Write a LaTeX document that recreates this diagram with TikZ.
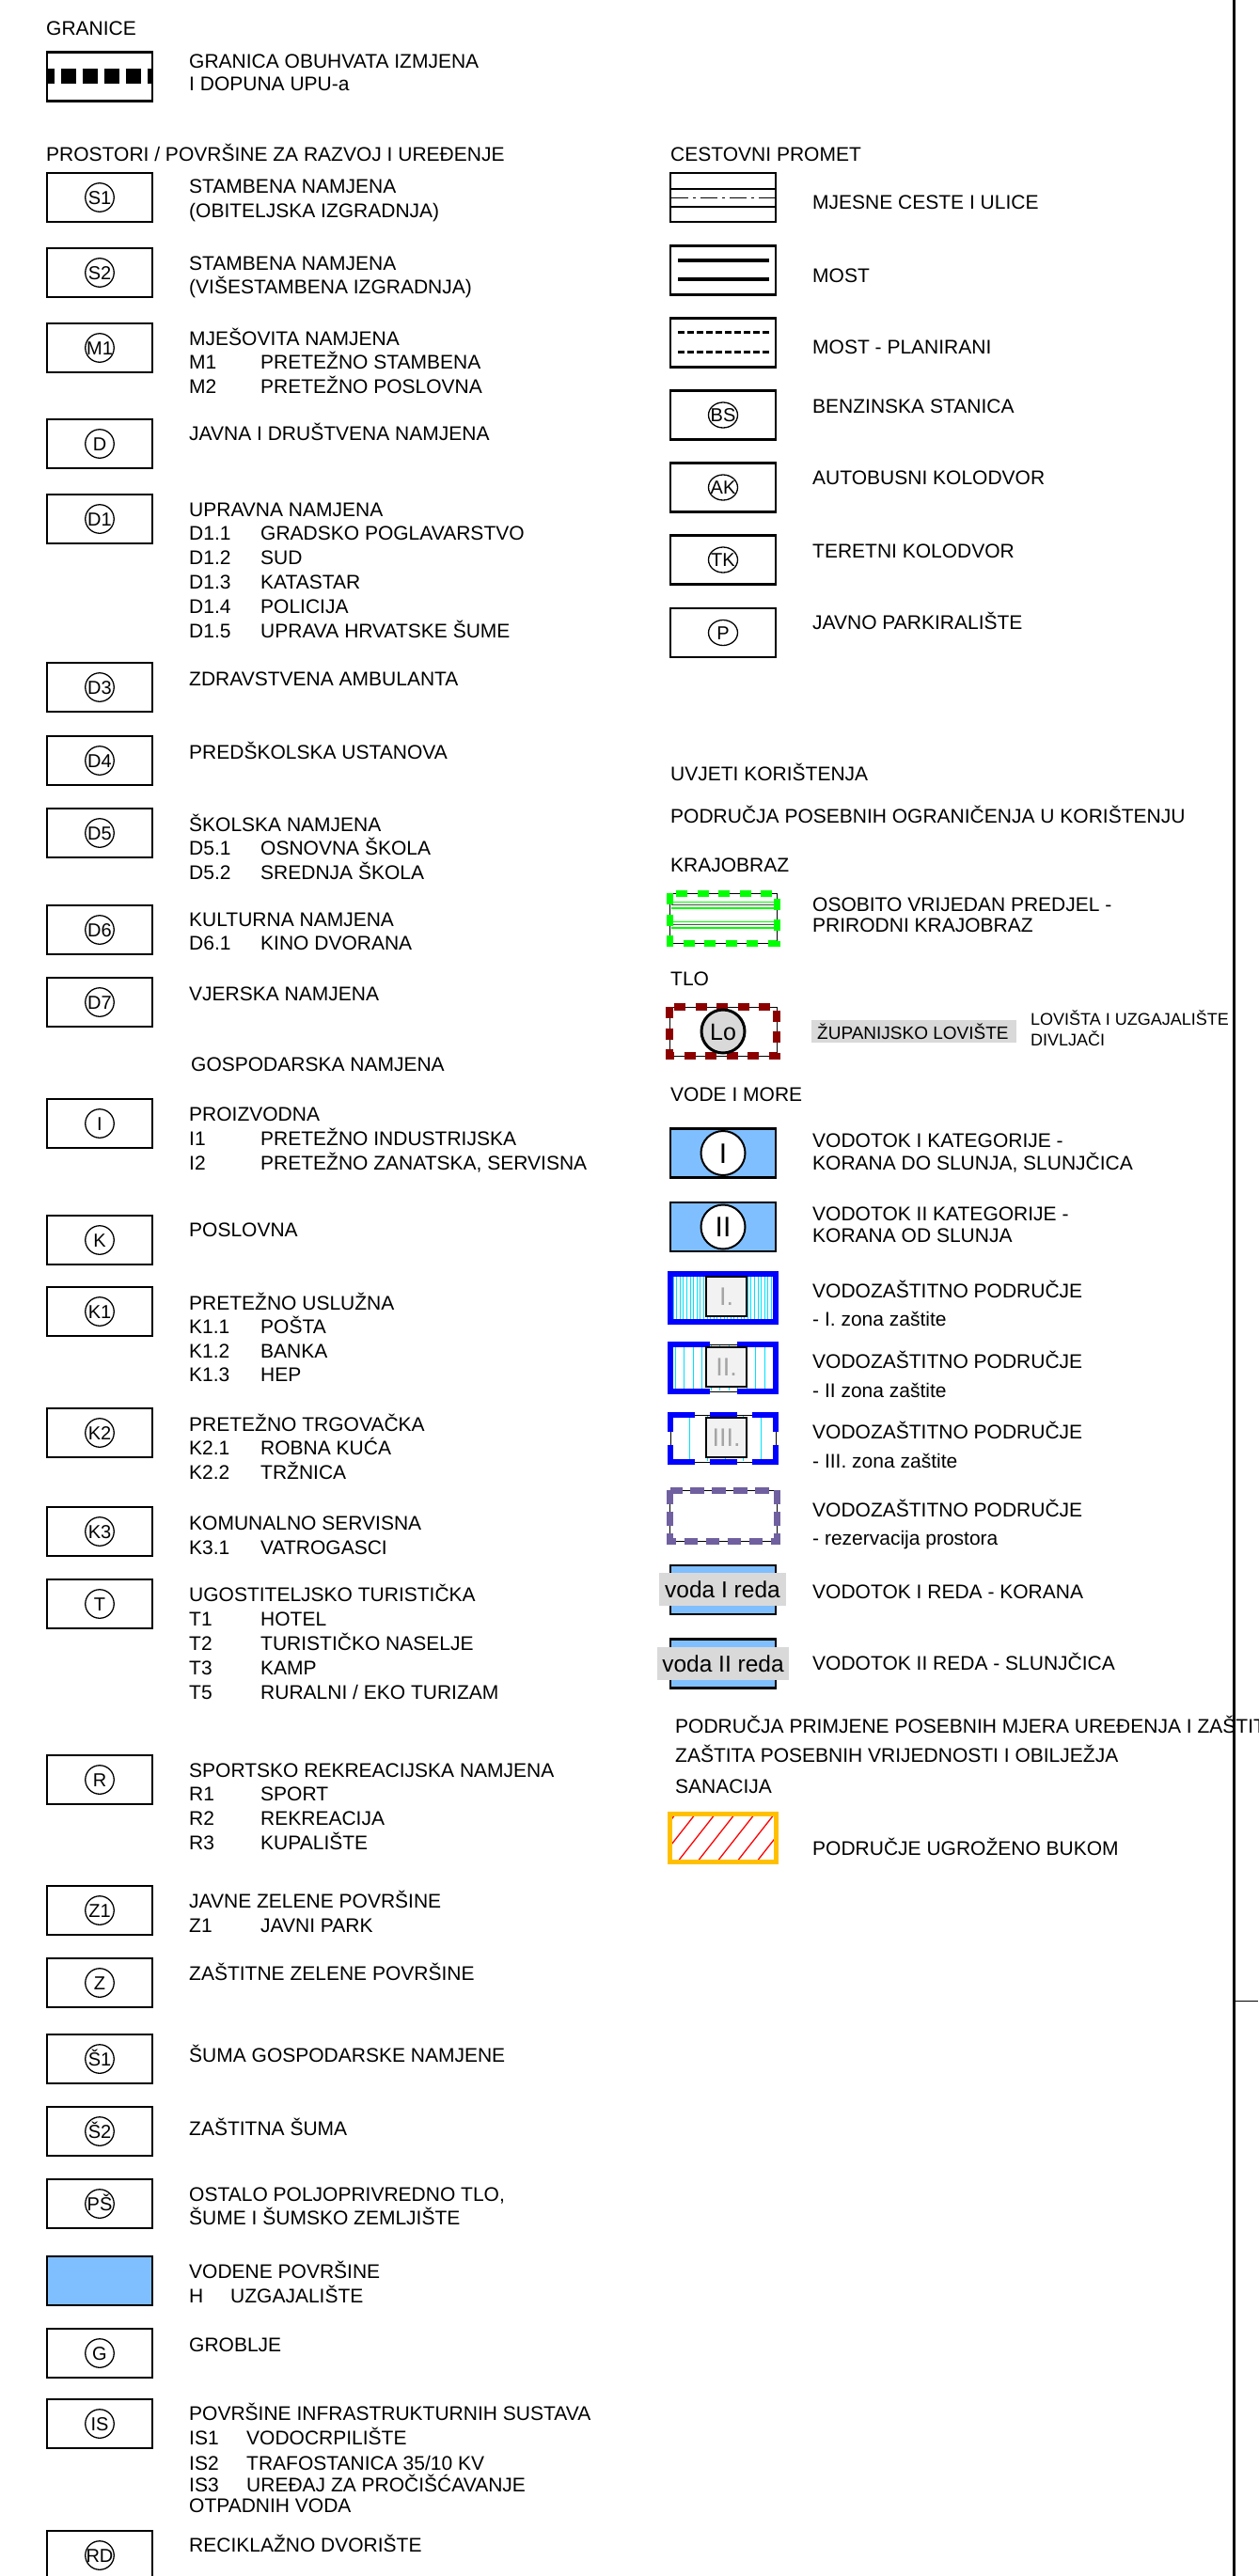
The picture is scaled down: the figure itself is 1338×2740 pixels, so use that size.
\documentclass[tikz,border=0pt]{standalone}
\usepackage{fontspec}
\setmainfont{Liberation Sans}
\usetikzlibrary{shapes.geometric}
\definecolor{lblue}{RGB}{128,191,255}
\definecolor{lgray}{RGB}{217,217,217}
\definecolor{vgreen}{RGB}{0,255,0}
\definecolor{dred}{RGB}{140,0,0}
\definecolor{vpurple}{RGB}{112,96,160}
\definecolor{vblue}{RGB}{0,0,255}
\definecolor{vcyan}{RGB}{0,225,255}
\definecolor{vorange}{RGB}{255,192,0}
\definecolor{igray}{RGB}{242,242,242}
\definecolor{tgray}{RGB}{165,165,165}
\newcommand\fs{\fontsize{21}{25.5}\selectfont}
\newcommand\ltabx[3]{{\fontsize{#1}{#2}\selectfont\begin{tabular}[t]{@{}l@{}}#3\end{tabular}}}
\newcommand\ltab[2][25.5]{\ltabx{21}{#1}{#2}}
\newcommand\subi[3][76pt]{\makebox[#1][l]{#2}#3}
\newcommand\cz[1]{\makebox[0pt]{#1}}
\begin{document}
\begin{tikzpicture}[x=1pt,y=-1pt,
  sym/.style={draw, line width=2.3pt, minimum width=112pt, minimum height=52pt, inner sep=0pt, outer sep=0pt},
  circ/.style={draw, circle, line width=1.3pt, fill=white, minimum size=30.5pt, inner sep=0pt, text height=14.3pt, text depth=0pt, font=\fontsize{20}{24}\selectfont},
  ell/.style={draw, ellipse, line width=1.3pt, fill=white, minimum width=31pt, minimum height=27pt, inner sep=0pt, text height=14.3pt, text depth=0pt, font=\fontsize{20}{24}\selectfont},
  bigc/.style={draw, circle, line width=2pt, fill=white, minimum size=47pt, inner sep=0pt, text height=21.5pt, text depth=0pt, font=\fontsize{30}{34}\selectfont},
  ibox/.style={draw, line width=2pt, fill=igray, minimum width=43pt, minimum height=42pt, inner sep=0pt, text height=19.5pt, text depth=0pt, text=tgray, font=\fontsize{27}{30}\selectfont},
  txt/.style={anchor=base west, inner sep=0pt, font=\fs},
  vlabel/.style={fill=lgray, minimum height=35pt, inner sep=0pt, text height=17.5pt, text depth=0pt, font=\fontsize{24.5}{28}\selectfont}
]
\useasboundingbox (0,0) rectangle (1338,2740);
\fill[white] (0,0) rectangle (1338,2740);

% ---------------- frame line on the right
\draw[line width=3pt] (1312,0) -- (1312,2740);
\draw[line width=1pt] (1312,2128) -- (1338,2128);

% ---------------- GRANICE
\node[txt] (hGran) at (49,38) {GRANICE};
\node[sym] (bGran) at (106,81.5) {};
\draw[line width=16pt, dash pattern=on 16.5pt off 6.5pt, dash phase=7.5pt] (49,81.5) -- (163,81.5);
\node[txt] (tGran) at (201,73) {\ltab[24]{GRANICA OBUHVATA IZMJENA\\I DOPUNA UPU-a}};

\node[txt] (hPros) at (49,172) {PROSTORI / POVRŠINE ZA RAZVOJ I UREĐENJE};

% ---------------- left column entries
\node[sym] (bS1) at (106,210) {}; \node[circ] (cS1) at (bS1.center) {\cz{S1}};
\node[txt] (tS1) at (201,205) {\ltab[26]{STAMBENA NAMJENA\\(OBITELJSKA IZGRADNJA)}};

\node[sym] (bS2) at (106,290) {}; \node[circ] (cS2) at (bS2.center) {\cz{S2}};
\node[txt] (tS2) at (201,287) {\ltab[25]{STAMBENA NAMJENA\\(VIŠESTAMBENA IZGRADNJA)}};

\node[sym] (bM1) at (106,370) {}; \node[circ] (cM1) at (bM1.center) {\cz{M1}};
\node[txt] (tM1) at (201,367) {\ltab[25]{MJEŠOVITA NAMJENA\\\subi{M1}{PRETEŽNO STAMBENA}\\\subi{M2}{PRETEŽNO POSLOVNA}}};

\node[sym] (bD) at (106,472) {}; \node[circ] (cD) at (bD.center) {\cz{D}};
\node[txt] (tD) at (201,468) {JAVNA I DRUŠTVENA NAMJENA};

\node[sym] (bD1) at (106,552) {}; \node[circ] (cD1) at (bD1.center) {\cz{D1}};
\node[txt] (tD1) at (201,549) {\ltab[25.8]{UPRAVNA NAMJENA\\\subi{D1.1}{GRADSKO POGLAVARSTVO}\\\subi{D1.2}{SUD}\\\subi{D1.3}{KATASTAR}\\\subi{D1.4}{POLICIJA}\\\subi{D1.5}{UPRAVA HRVATSKE ŠUME}}};

\node[sym] (bD3) at (106,731) {}; \node[circ] (cD3) at (bD3.center) {\cz{D3}};
\node[txt] (tD3) at (201,729) {ZDRAVSTVENA AMBULANTA};

\node[sym] (bD4) at (106,809) {}; \node[circ] (cD4) at (bD4.center) {\cz{D4}};
\node[txt] (tD4) at (201,807) {PREDŠKOLSKA USTANOVA};

\node[sym] (bD5) at (106,886) {}; \node[circ] (cD5) at (bD5.center) {\cz{D5}};
\node[txt] (tD5) at (201,884) {\ltab[25]{ŠKOLSKA NAMJENA\\\subi{D5.1}{OSNOVNA ŠKOLA}\\\subi{D5.2}{SREDNJA ŠKOLA}}};

\node[sym] (bD6) at (106,989) {}; \node[circ] (cD6) at (bD6.center) {\cz{D6}};
\node[txt] (tD6) at (201,985) {\ltab[25.5]{KULTURNA NAMJENA\\\subi{D6.1}{KINO DVORANA}}};

\node[sym] (bD7) at (106,1066) {}; \node[circ] (cD7) at (bD7.center) {\cz{D7}};
\node[txt] (tD7) at (201,1064) {VJERSKA NAMJENA};

\node[txt] (hGosp) at (203,1139) {GOSPODARSKA NAMJENA};

\node[sym] (bI) at (106,1195) {}; \node[circ] (cI) at (bI.center) {\cz{I}};
\node[txt] (tI) at (201,1192) {\ltab[25.5]{PROIZVODNA\\\subi{I1}{PRETEŽNO INDUSTRIJSKA}\\\subi{I2}{PRETEŽNO ZANATSKA, SERVISNA}}};

\node[sym] (bK) at (106,1319) {}; \node[circ] (cK) at (bK.center) {\cz{K}};
\node[txt] (tK) at (201,1315) {POSLOVNA};

\node[sym] (bK1) at (106,1395) {}; \node[circ] (cK1) at (bK1.center) {\cz{K1}};
\node[txt] (tK1) at (201,1393) {\ltab[25.2]{PRETEŽNO USLUŽNA\\\subi{K1.1}{POŠTA}\\\subi{K1.2}{BANKA}\\\subi{K1.3}{HEP}}};

\node[sym] (bK2) at (106,1524) {}; \node[circ] (cK2) at (bK2.center) {\cz{K2}};
\node[txt] (tK2) at (201,1522) {\ltab[25.5]{PRETEŽNO TRGOVAČKA\\\subi{K2.1}{ROBNA KUĆA}\\\subi{K2.2}{TRŽNICA}}};

\node[sym] (bK3) at (106,1629) {}; \node[circ] (cK3) at (bK3.center) {\cz{K3}};
\node[txt] (tK3) at (201,1627) {\ltab[26]{KOMUNALNO SERVISNA\\\subi{K3.1}{VATROGASCI}}};

\node[sym] (bT) at (106,1706) {}; \node[circ] (cT) at (bT.center) {\cz{T}};
\node[txt] (tT) at (201,1703) {\ltab[26.2]{UGOSTITELJSKO TURISTIČKA\\\subi{T1}{HOTEL}\\\subi{T2}{TURISTIČKO NASELJE}\\\subi{T3}{KAMP}\\\subi{T5}{RURALNI / EKO TURIZAM}}};

\node[sym] (bR) at (106,1893) {}; \node[circ] (cR) at (bR.center) {\cz{R}};
\node[txt] (tR) at (201,1890) {\ltab[25.7]{SPORTSKO REKREACIJSKA NAMJENA\\\subi{R1}{SPORT}\\\subi{R2}{REKREACIJA}\\\subi{R3}{KUPALIŠTE}}};

\node[sym] (bZ1) at (106,2032) {}; \node[circ] (cZ1) at (bZ1.center) {\cz{Z1}};
\node[txt] (tZ1) at (201,2029) {\ltab[26]{JAVNE ZELENE POVRŠINE\\\subi{Z1}{JAVNI PARK}}};

\node[sym] (bZ) at (106,2109) {}; \node[circ] (cZ) at (bZ.center) {\cz{Z}};
\node[txt] (tZ) at (201,2106) {ZAŠTITNE ZELENE POVRŠINE};

\node[sym] (bSA) at (106,2190) {}; \node[circ] (cSA) at (bSA.center) {\cz{Š1}};
\node[txt] (tSA) at (201,2193) {ŠUMA GOSPODARSKE NAMJENE};

\node[sym] (bSB) at (106,2267) {}; \node[circ] (cSB) at (bSB.center) {\cz{Š2}};
\node[txt] (tSB) at (201,2271) {ZAŠTITNA ŠUMA};

\node[sym] (bPS) at (106,2344) {}; \node[circ] (cPS) at (bPS.center) {\cz{PŠ}};
\node[txt] (tPS) at (201,2341) {\ltab[24]{OSTALO POLJOPRIVREDNO TLO,\\ŠUME I ŠUMSKO ZEMLJIŠTE}};

\node[sym, fill=lblue] (bH) at (106,2426) {};
\node[txt] (tH) at (201,2423) {\ltab[26]{VODENE POVRŠINE\\\subi[44pt]{H}{UZGAJALIŠTE}}};

\node[sym] (bG) at (106,2503) {}; \node[circ] (cG) at (bG.center) {\cz{G}};
\node[txt] (tG) at (201,2501) {GROBLJE};

\node[sym] (bIS) at (106,2578) {}; \node[circ] (cIS) at (bIS.center) {\cz{IS}};
\node[txt] (tIS) at (201,2574) {\ltab[26.5]{POVRŠINE INFRASTRUKTURNIH SUSTAVA\\\subi[61pt]{IS1}{VODOCRPILIŠTE}\\\subi[61pt]{IS2}{TRAFOSTANICA 35/10 KV}}};
\node[txt] (tIS3) at (201,2650) {\ltab[22]{\subi[61pt]{IS3}{UREĐAJ ZA PROČIŠĆAVANJE}\\OTPADNIH VODA}};

\node[sym] (bRD) at (106,2718) {}; \node[circ] (cRD) at (bRD.center) {\cz{RD}};
\node[txt] (tRD) at (201,2714) {RECIKLAŽNO DVORIŠTE};

% ---------------- right column: CESTOVNI PROMET
\node[txt] (hCest) at (713,172) {CESTOVNI PROMET};

\node[sym] (bRoad) at (769,210) {};
\draw[line width=1.3pt] (712,201) -- (826,201);
\draw[line width=1.3pt] (712,220) -- (826,220);
\draw[line width=1.3pt, dash pattern=on 18pt off 5pt on 3pt off 5pt] (714,210.5) -- (824,210.5);
\node[txt] (tRoad) at (864,222.6) {MJESNE CESTE I ULICE};

\node[sym] (bMost) at (769,287.5) {};
\draw[line width=3.5pt] (721,277) -- (818,277);
\draw[line width=3.5pt] (721,297) -- (818,297);
\node[txt] (tMost) at (864,300) {MOST};

\node[sym] (bMostP) at (769,364.5) {};
\draw[line width=3pt, dash pattern=on 7pt off 3pt] (721,353.5) -- (818,353.5);
\draw[line width=3pt, dash pattern=on 7pt off 3pt] (721,374.5) -- (818,374.5);
\node[txt] (tMostP) at (864,376) {MOST - PLANIRANI};

\node[sym] (bBS) at (769,441.5) {}; \node[ell] (cBS) at (bBS.center) {\cz{BS}};
\node[txt] (tBS) at (864,439) {BENZINSKA STANICA};

\node[sym] (bAK) at (769,518.5) {}; \node[ell] (cAK) at (bAK.center) {\cz{AK}};
\node[txt] (tAK) at (864,515) {AUTOBUSNI KOLODVOR};

\node[sym] (bTK) at (769,595.5) {}; \node[ell] (cTK) at (bTK.center) {\cz{TK}};
\node[txt] (tTK) at (864,593) {TERETNI KOLODVOR};

\node[sym] (bP) at (769,673) {}; \node[ell] (cP) at (bP.center) {\cz{P}};
\node[txt] (tP) at (864,669) {JAVNO PARKIRALIŠTE};

% ---------------- UVJETI KORIŠTENJA
\node[txt] (hUvj) at (713,830) {UVJETI KORIŠTENJA};
\node[txt] (hPod) at (713,875) {PODRUČJA POSEBNIH OGRANIČENJA U KORIŠTENJU};
\node[txt] (hKraj) at (713,927) {KRAJOBRAZ};

% green landscape symbol
\draw[line width=0.8pt] (712,950) rectangle (826,1003);
\foreach \yy in {959.5,966} \draw[vgreen, line width=1.4pt] (714,\yy) -- (824,\yy);
\foreach \yy in {980.5,987} \draw[vgreen, line width=1.4pt] (714,\yy) -- (824,\yy);
\draw[black!70, line width=0.5pt] (714,962.7) -- (824,962.7);
\draw[black!70, line width=0.5pt] (714,983.7) -- (824,983.7);
\draw[vgreen, line width=7pt, dash pattern=on 12pt off 10.5pt] (712,950) rectangle (826,1003);
\node[txt] (tKraj) at (864,969) {\ltab[22]{OSOBITO VRIJEDAN PREDJEL -\\PRIRODNI KRAJOBRAZ}};

\node[txt] (hTlo) at (713,1048) {TLO};
\draw[line width=0.8pt] (712,1071) rectangle (826,1123);
\draw[dred, line width=8pt, dash pattern=on 12pt off 10.5pt] (712,1071) rectangle (826,1123);
\node[draw, circle, line width=3pt, fill=lgray, minimum size=46pt, inner sep=0pt, text height=18pt, text depth=0pt, font=\fontsize{25}{30}\selectfont] (cLo) at (769,1097) {\cz{Lo}};
\node[fill=lgray, anchor=north west, minimum width=218pt, minimum height=24pt, inner sep=0pt] (lZup) at (863,1085) {};
\node[anchor=base west, inner sep=0pt, font=\fontsize{19}{22}\selectfont] (tZup) at (869,1105.5) {ŽUPANIJSKO LOVIŠTE};
\node[anchor=base west, inner sep=0pt] (tLov) at (1096,1090) {\ltabx{18}{22}{LOVIŠTA I UZGAJALIŠTE\\DIVLJAČI}};

% ---------------- VODE I MORE
\node[txt] (hVode) at (713,1171) {VODE I MORE};

\node[sym, fill=lblue] (bV1) at (769,1226.5) {}; \node[bigc] (cV1) at (bV1.center) {\cz{I}};
\node[txt] (tV1) at (864,1220) {\ltab[22]{VODOTOK I KATEGORIJE -\\KORANA DO SLUNJA, SLUNJČICA}};

\node[sym, fill=lblue] (bV2) at (769,1305) {}; \node[bigc] (cV2) at (bV2.center) {\cz{II}};
\node[txt] (tV2) at (864,1298) {\ltab[23]{VODOTOK II KATEGORIJE -\\KORANA OD SLUNJA}};

% zone I
\foreach \xx in {716,719.6,...,823} \draw[vcyan, line width=1pt] (\xx,1357) -- (\xx,1404);
\draw[vblue, line width=6pt] (713,1355) rectangle (825,1406);
\node[ibox] (zI) at (772.5,1379) {\cz{I.}};
\node[txt] (tZ1a) at (864,1380.5) {\ltab[30]{VODOZAŠTITNO PODRUČJE\\- I. zona zaštite}};

% zone II
\foreach \xx in {718,727.5,...,823} \draw[vcyan, line width=1pt] (\xx,1431) -- (\xx,1479);
\draw[line width=0.8pt] (713,1430) rectangle (825,1480);
\draw[vblue, line width=6pt] (755,1430) -- (713,1430) -- (713,1480) -- (755,1480);
\draw[vblue, line width=6pt] (784,1430) -- (825,1430) -- (825,1480) -- (784,1480);
\node[ibox] (zII) at (772.5,1454) {\cz{II.}};
\node[txt] (tZ2a) at (864,1455) {\ltab[31]{VODOZAŠTITNO PODRUČJE\\- II zona zaštite}};

% zone III
\foreach \xx in {733,752,...,820} \draw[vcyan, line width=1pt] (\xx,1506) -- (\xx,1554);
\draw[line width=0.8pt] (713,1505) rectangle (825,1555);
\foreach \yy in {1505,1555} {
  \draw[vblue, line width=6pt] (710,\yy) -- (739,\yy);
  \draw[vblue, line width=6pt] (755,\yy) -- (784,\yy);
  \draw[vblue, line width=6pt] (800,\yy) -- (828,\yy);
}
\foreach \xx in {713,825} {
  \draw[vblue, line width=6pt] (\xx,1502) -- (\xx,1523);
  \draw[vblue, line width=6pt] (\xx,1537) -- (\xx,1558);
}
\node[ibox] (zIII) at (772.5,1529) {\cz{III.}};
\node[txt] (tZ3a) at (864,1530) {\ltab[31]{VODOZAŠTITNO PODRUČJE\\- III. zona zaštite}};

% reservation
\draw[line width=0.8pt] (712.5,1585) rectangle (826,1639);
\draw[vpurple, line width=7pt, dash pattern=on 14.5pt off 8.5pt] (712.5,1585) rectangle (826,1639);
\node[txt] (tRez) at (864,1613) {\ltab[30]{VODOZAŠTITNO PODRUČJE\\- rezervacija prostora}};

% voda I / II reda
\node[sym, fill=lblue] (bVR1) at (769,1691) {};
\node[vlabel, minimum width=135pt] (lVR1) at (768.5,1690.5) {voda I reda};
\node[txt] (tVR1) at (864,1700) {VODOTOK I REDA - KORANA};

\node[sym, fill=lblue] (bVR2) at (769,1769.5) {};
\node[vlabel, minimum width=140pt] (lVR2) at (769,1769.5) {voda II reda};
\node[txt] (tVR2) at (864,1776) {VODOTOK II REDA - SLUNJČICA};

% ---------------- special measures
\node[txt] (hMj) at (718,1843) {PODRUČJA PRIMJENE POSEBNIH MJERA UREĐENJA I ZAŠTITE};
\node[txt] (hZas) at (718,1874) {ZAŠTITA POSEBNIH VRIJEDNOSTI I OBILJEŽJA};
\node[txt] (hSan) at (718,1907) {SANACIJA};

\begin{scope}
  \clip (712,1929) rectangle (826,1981);
  \foreach \xx in {650,671,...,840} \draw[red, line width=1.3pt] (\xx,1990) -- ++(55,-70);
\end{scope}
\draw[vorange, line width=5pt] (712.5,1929.5) rectangle (825.5,1980.5);
\node[txt] (tBuka) at (864,1973) {PODRUČJE UGROŽENO BUKOM};
\end{tikzpicture}
\end{document}
